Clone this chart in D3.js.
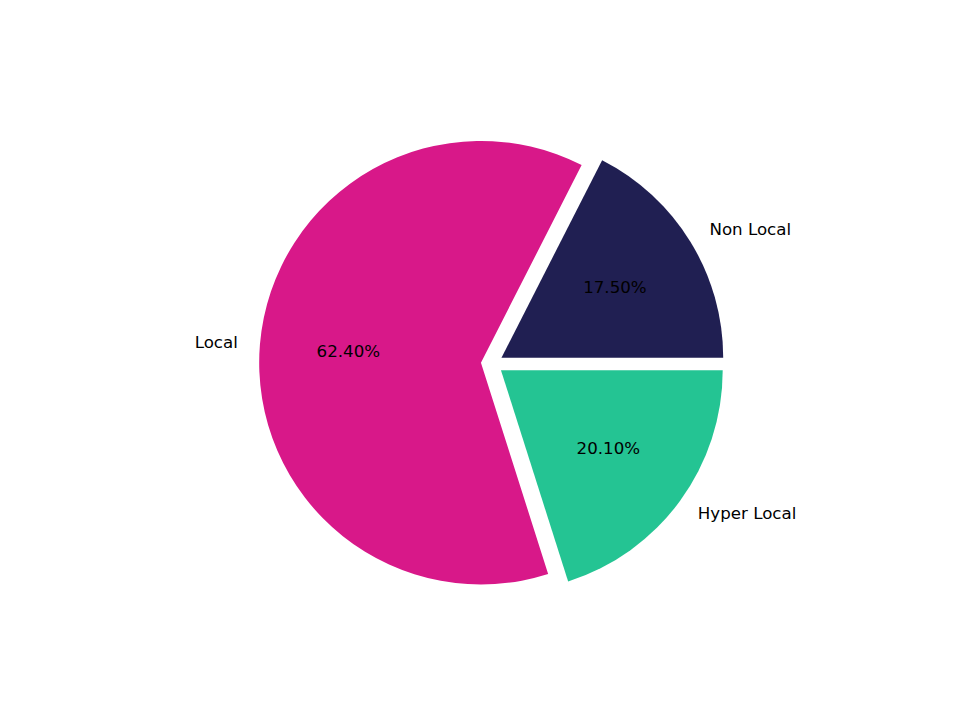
<!DOCTYPE html>
<html>
<head>
<meta charset="utf-8">
<script src="https://cdn.jsdelivr.net/npm/d3@7"></script>
<style>
  html, body { margin: 0; padding: 0; background: #ffffff; }
  svg { display: block; }
  text { font-family: "DejaVu Sans", sans-serif; font-size: 16.67px; fill: #000; }
</style>
</head>
<body>
<svg id="chart" width="960" height="720"></svg>
<script>
const categories = ["Non Local", "Local", "Hyper Local"];
const values = [17.5, 62.4, 20.1];
const colors = ["#201f52", "#d81889", "#24c493"];
const explode = [0.05, 0.05, 0.05];

const W = 960, H = 720;
const svg = d3.select("#chart");

// axes box like matplotlib default (equal aspect, limits +-1.25)
const axCx = 0.5125 * W, axCy = H - 0.495 * H;
const axH = 0.77 * H;
const half = axH / 2;
const x = d3.scaleLinear().domain([-1.25, 1.25]).range([axCx - half, axCx + half]);
const y = d3.scaleLinear().domain([-1.25, 1.25]).range([axCy + half, axCy - half]);
const R = x(1) - x(0);

const pie = d3.pie().sort(null).value(d => d)
  .startAngle(Math.PI / 2).endAngle(Math.PI / 2 - 2 * Math.PI);
const arcs = pie(values);
const arc = d3.arc().innerRadius(0).outerRadius(R);

const g = svg.append("g");
arcs.forEach((a, i) => {
  const mid = (a.startAngle + a.endAngle) / 2;
  const ux = Math.sin(mid), uy = Math.cos(mid); // data-space direction
  const cxD = explode[i] * ux, cyD = explode[i] * uy;
  const px = x(cxD), py = y(cyD);
  g.append("path")
    .attr("d", arc(a))
    .attr("transform", `translate(${px},${py})`)
    .attr("fill", colors[i]);
  const lx = x(cxD + 1.1 * ux), ly = y(cyD + 1.1 * uy);
  g.append("text")
    .attr("x", lx).attr("y", ly)
    .attr("dy", "0.3em")
    .attr("text-anchor", (cxD + 1.1 * ux) > 0 ? "start" : "end")
    .text(categories[i]);
  const tx = x(cxD + 0.6 * ux), ty = y(cyD + 0.6 * uy);
  g.append("text")
    .attr("x", tx).attr("y", ty)
    .attr("dy", "0.3em")
    .attr("text-anchor", "middle")
    .text(values[i].toFixed(2) + "%");
});
</script>
</body>
</html>
